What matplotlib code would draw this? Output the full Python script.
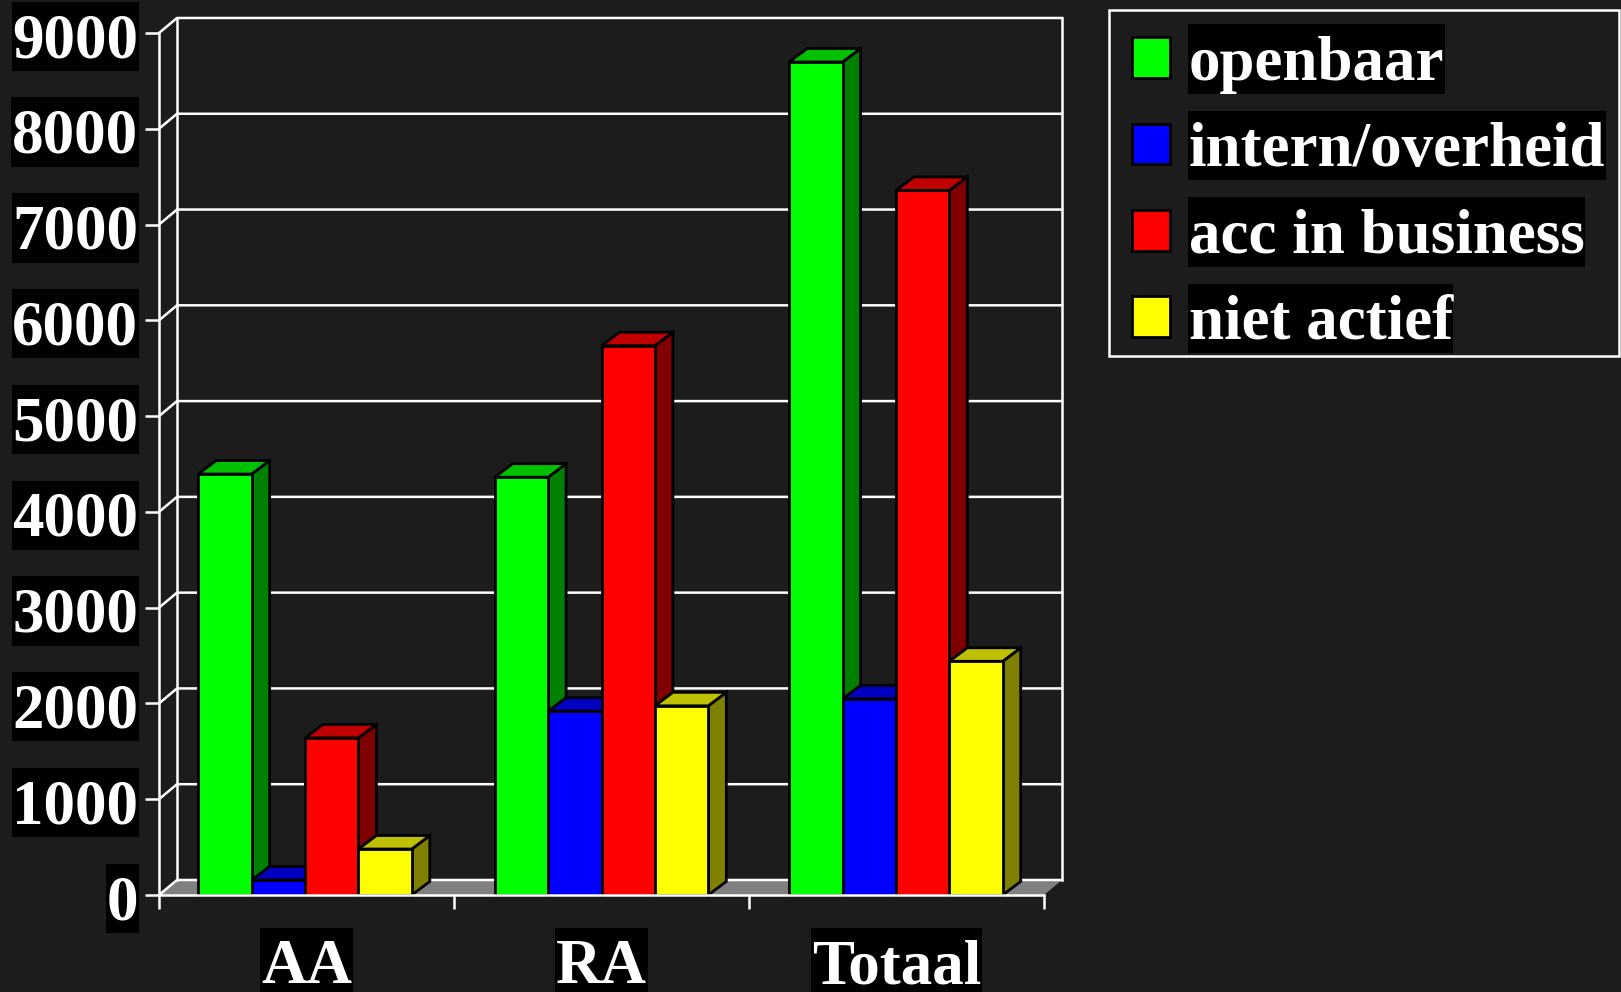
import numpy as np
import matplotlib
matplotlib.use('Agg')
import matplotlib.pyplot as plt
from matplotlib.patches import Patch
from matplotlib.path import Path
from matplotlib.transforms import Affine2D

groups = ['AA', 'RA', 'Totaal']
series = ['openbaar', 'intern/overheid', 'acc in business', 'niet actief']
openbaar = [4395, 4362, 8697]
intern = [157, 1920, 2048]
acc = [1640, 5735, 7356]
niet_actief = [480, 1975, 2440]
yticks = [0, 1000, 2000, 3000, 4000, 5000, 6000, 7000, 8000, 9000]

values = [openbaar, intern, acc, niet_actief]
front = ['#00ff00', '#0000ff', '#ff0000', '#ffff00']
top = ['#00c000', '#0000c0', '#c00000', '#c0c000']
side = ['#008000', '#000080', '#800000', '#808000']

bg = '#1c1c1c'
fontsize = 45.4
bar_w = 0.181
offsets = [0.133, 0.138, 0.136]
dx = 18. / 295.  # depth of the 3d look
dy = 15 / 95.67 * 1000
bar_dy = 13.5 / 95.67 * 1000


def black_box(x0, y0, width, height, mutation_size):
    # black box behind labels, taller than the text itself
    pad_x = 0.01 * mutation_size
    x0, x1 = x0 - pad_x, x0 + width + pad_x
    y0, y1 = y0, y0 + height + 0.18 * mutation_size
    return Path([(x0, y0), (x1, y0), (x1, y1), (x0, y1), (x0, y0)], closed=True)


def legend_frame(x0, y0, width, height, mutation_size):
    # frame sits up and to the left of the legend entries
    x1, x0 = x0 + width - 2, x0 - 7
    y0, y1 = y0 + 13, y0 + height + 10
    return Path([(x0, y0), (x1, y0), (x1, y1), (x0, y1), (x0, y0)], closed=True)


plt.rcParams['font.family'] = ['Liberation Serif', 'DejaVu Serif']
plt.rcParams['font.weight'] = 'bold'

fig = plt.figure(figsize=(16.21, 9.92), dpi=100, facecolor=bg)
ax = fig.add_axes([159 / 1621, 97 / 992, 885 / 1621, 862 / 992], facecolor=bg)
ax.set_xlim(0, 3)
ax.set_ylim(0, 9000)
ax.patch.set_visible(False)

# floor and back wall
ax.fill([0, dx, 3 + dx, 3], [0, dy, dy, 0], color='#808080', lw=0, zorder=1, clip_on=False)
for v in yticks:
    ax.plot([0, dx, 3 + dx], [v, v + dy, v + dy], color='white', lw=1.8, zorder=1, clip_on=False)
ax.plot([dx, dx], [dy, 9000 + dy], color='white', lw=1.8, zorder=1, clip_on=False)
ax.plot([3 + dx, 3 + dx], [dy, 9000 + dy], color='white', lw=1.8, zorder=1, clip_on=False)

for g in range(len(groups)):
    for s in range(len(series)):
        x = g + offsets[g] + s * bar_w
        v = values[s][g]
        z = 2 + 0.01 * (g * 4 + s)
        ax.fill([x + bar_w, x + bar_w + dx, x + bar_w + dx, x + bar_w], [0, bar_dy, v + bar_dy, v],
                facecolor=side[s], edgecolor='black', lw=2, zorder=z, clip_on=False)
        ax.fill([x, x + dx, x + bar_w + dx, x + bar_w], [v, v + bar_dy, v + bar_dy, v],
                facecolor=top[s], edgecolor='black', lw=2, zorder=z, clip_on=False)
        ax.bar(x, v, bar_w, align='edge', facecolor=front[s], edgecolor='black', lw=2, zorder=z, clip_on=False)

for name in ['top', 'right']:
    ax.spines[name].set_visible(False)
for name in ['left', 'bottom']:
    ax.spines[name].set_color('white')
    ax.spines[name].set_linewidth(1.8)
    ax.spines[name].set_zorder(3)

ax.set_xticks([0, 1, 2, 3])
ax.set_xticklabels([])
ax.set_xticks([0.5, 1.5, 2.5], minor=True)
ax.set_xticklabels(groups, minor=True, fontsize=fontsize, color='white')
ax.tick_params(axis='x', which='major', length=10, width=1.8, color='white')
ax.tick_params(axis='x', which='minor', length=0, pad=32)
ax.set_yticks(yticks)
ax.set_yticklabels(yticks, fontsize=fontsize, color='white')
ax.tick_params(axis='y', length=10, width=1.8, color='white', pad=5)
box = dict(boxstyle=black_box, facecolor='black', edgecolor='none')
for label in ax.get_yticklabels():
    label.set_transform(label.get_transform() + Affine2D().translate(0, -2))
    label.set_bbox(box)
for label in ax.get_xticklabels(minor=True):
    label.set_bbox(box)

handles = [Patch(facecolor=c, edgecolor='black', lw=2) for c in front]
leg = ax.legend(handles, series, loc='upper left', bbox_to_anchor=(1116 / 1621, 1 - 20 / 992),
                bbox_transform=fig.transFigure, borderaxespad=0, fontsize=fontsize, frameon=True,
                fancybox=False, facecolor=bg, edgecolor='white', framealpha=1,
                handlelength=0.6, handleheight=0.62, handletextpad=0.3, labelspacing=0.45,
                borderpad=0.25)
leg.get_frame().set_linewidth(1.8)
leg.get_frame().set_boxstyle(legend_frame)
for t in leg.get_texts():
    t.set_color('white')
    t.set_bbox(box)

fig.savefig('out.png', dpi=100, facecolor=bg)
